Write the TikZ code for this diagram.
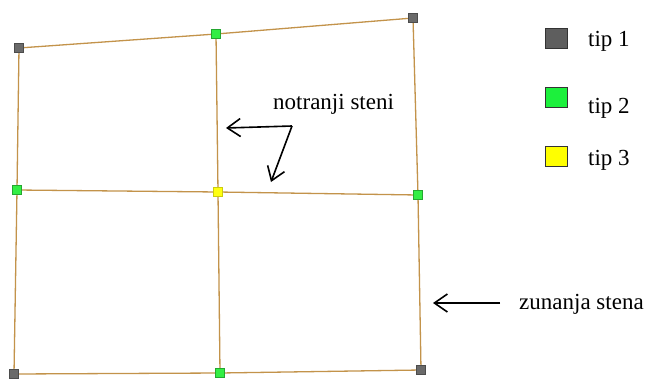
\documentclass[tikz,border=0pt]{standalone}
\usepackage{fontspec}
\setmainfont{Liberation Serif}
\usetikzlibrary{arrows.meta}
\definecolor{wall}{HTML}{C3934A}
\definecolor{ctype1}{HTML}{6A6A6A}
\definecolor{ctype2}{HTML}{33EE44}
\definecolor{ctype3}{HTML}{FFFF10}
\definecolor{ltype1}{HTML}{5E5E5E}
\definecolor{ltype2}{HTML}{1CF03C}
\definecolor{ltype3}{HTML}{FFFF00}
\begin{document}
\begin{tikzpicture}[x=1pt,y=-1pt,
  wallline/.style={draw=wall,line width=1.3pt},
  joint/.style={rectangle,draw=black!70,line width=0.6pt,minimum size=9.5pt,inner sep=0pt},
  legbox/.style={rectangle,draw=black!80,line width=1pt,minimum width=22pt,minimum height=20pt,inner sep=0pt},
  lbl/.style={font=\fontsize{23}{27}\selectfont,inner sep=0pt,anchor=base west},
  pointer/.style={-{Straight Barb[length=13pt,width=18pt,line width=1.6pt]},line width=1.6pt,black}]
\useasboundingbox (0,0) rectangle (651,378);
\fill[white] (0,0) rectangle (651,378);
% wall joints
\coordinate (TL) at (19,48);
\coordinate (TM) at (216,34);
\coordinate (TR) at (413,18);
\coordinate (LM) at (17,190);
\coordinate (C)  at (218,192);
\coordinate (RM) at (418,195);
\coordinate (BL) at (14,374);
\coordinate (BM) at (220,373);
\coordinate (BR) at (421,370);
% walls
\draw[wallline] (TL) -- (TM) -- (TR) -- (RM) -- (BR) -- (BM) -- (BL) -- (LM) -- cycle;
\draw[wallline] (TM) -- (C) -- (BM);
\draw[wallline] (LM) -- (C) -- (RM);
% joint markers
\foreach \p in {TL,TR,BL,BR} \node[joint,fill=ctype1] (n\p) at (\p) {};
\foreach \p in {TM,LM,RM,BM} \node[joint,fill=ctype2,draw=ctype2!70!black] (n\p) at (\p) {};
\node[joint,fill=ctype3,draw=ctype3!80!black] (nC) at (C) {};
% legend
\node[legbox,fill=ltype1] (k1) at (556,38) {};
\node[legbox,fill=ltype2] (k2) at (556,97) {};
\node[legbox,fill=ltype3] (k3) at (556,156) {};
\node[lbl] (t1) at (588,46) {tip 1};
\node[lbl] (t2) at (588,113) {tip 2};
\node[lbl] (t3) at (588,165) {tip 3};
% labels and pointers
\node[lbl] (inner) at (273,109) {notranji steni};
\node[lbl] (outer) at (519,309) {zunanja stena};
\coordinate (fork) at (292,126);
\coordinate (tipA) at (226,128);
\coordinate (tipB) at (271,182);
\coordinate (tailC) at (500,303);
\coordinate (tipC) at (433,303);
\draw[pointer] (fork) -- (tipA);
\draw[pointer] (fork) -- (tipB);
\draw[pointer] (tailC) -- (tipC);
\end{tikzpicture}
\end{document}
